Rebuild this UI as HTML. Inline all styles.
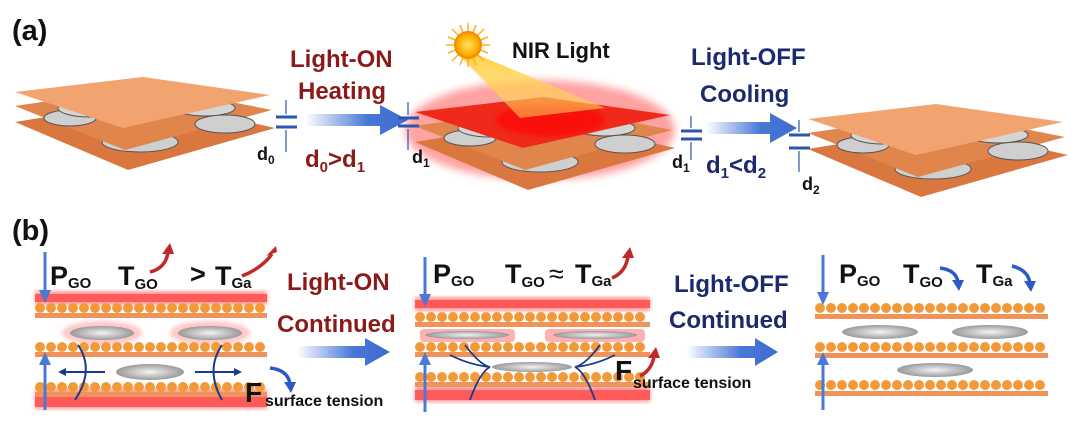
<!DOCTYPE html>
<html><head><meta charset="utf-8"><style>
html,body{margin:0;padding:0;background:#fff;}
svg{display:block;font-family:"Liberation Sans",Arial,sans-serif;font-weight:bold;}
</style></head><body>
<svg width="1080" height="424" viewBox="0 0 1080 424" xmlns="http://www.w3.org/2000/svg">
<defs>
<linearGradient id="arr" x1="0" x2="1" y1="0" y2="0"><stop offset="0" stop-color="#4a78d6" stop-opacity="0"/><stop offset="0.6" stop-color="#4a78d6"/><stop offset="1" stop-color="#3d6cd0"/></linearGradient>
<radialGradient id="sun"><stop offset="0" stop-color="#ffe066"/><stop offset="0.7" stop-color="#ffb000"/><stop offset="1" stop-color="#f08000"/></radialGradient>
<linearGradient id="beam" x1="0" y1="0" x2="0" y2="1"><stop offset="0" stop-color="#ffcc33" stop-opacity="0.9"/><stop offset="1" stop-color="#ffd966" stop-opacity="0.5"/></linearGradient>
<radialGradient id="disc"><stop offset="0" stop-color="#f4f4f4"/><stop offset="1" stop-color="#9a9a9a"/></radialGradient>
<filter id="blur"><feGaussianBlur stdDeviation="4"/></filter>
<filter id="blur2"><feGaussianBlur stdDeviation="2"/></filter>
<g id="stack">
  <polygon points="15,122 150,100 275,128 128,170" fill="#d9773f"/>
  <ellipse cx="140" cy="142" rx="38" ry="10" fill="#cfcfcf" stroke="#555" stroke-width="1"/>
  <polygon points="15,106 150,86 272,110 125,150" fill="#e0854c"/>
  <ellipse cx="70" cy="118" rx="26" ry="8" fill="#cfcfcf" stroke="#555"/>
  <ellipse cx="225" cy="124" rx="30" ry="9" fill="#cfcfcf" stroke="#555"/>
  <ellipse cx="90" cy="108" rx="32" ry="9" fill="#d5d5d5" stroke="#555"/>
  <ellipse cx="205" cy="108" rx="30" ry="8" fill="#d5d5d5" stroke="#555"/>
  <polygon points="15,92 143,77 270,95 123,128" fill="#f2a470"/>
</g>
</defs>

<!-- (a) -->
<text x="12" y="40" font-size="29" fill="#111">(a)</text>
<use href="#stack"/>
<g transform="translate(400,20)">
  <ellipse cx="140" cy="110" rx="135" ry="50" fill="#ff3030" opacity="0.45" filter="url(#blur)"/>
  <use href="#stack"/>
  <polygon points="15,92 143,77 270,95 123,128" fill="#f02a1a"/>
  <ellipse cx="150" cy="100" rx="55" ry="16" fill="#ff0000" opacity="0.6" filter="url(#blur2)"/>
</g>
<polygon points="462,58 478,55 605,108 520,118" fill="url(#beam)"/>
<g transform="translate(468,45)">
  <g stroke="#ffb020" stroke-width="1.5">
  <line x1="-22" y1="0" x2="22" y2="0"/><line x1="0" y1="-22" x2="0" y2="22"/>
  <line x1="-16" y1="-16" x2="16" y2="16"/><line x1="-16" y1="16" x2="16" y2="-16"/>
  <line x1="-20" y1="-8" x2="20" y2="8"/><line x1="-20" y1="8" x2="20" y2="-8"/>
  <line x1="-8" y1="-20" x2="8" y2="20"/><line x1="8" y1="-20" x2="-8" y2="20"/>
  </g>
  <circle r="14" fill="url(#sun)"/>
</g>
<text x="512" y="58" font-size="22" fill="#111">NIR Light</text>
<use href="#stack" transform="translate(793,27)"/>

<polygon points="305,114 380,114 380,105 408,120 380,135 380,126 305,126" fill="url(#arr)"/>
<polygon points="706,122 770,122 770,113 797,128 770,143 770,134 706,134" fill="url(#arr)"/>

<g fill="#8b1a1a" font-size="24">
<text x="290" y="67">Light-ON</text>
<text x="298" y="99">Heating</text>
<text x="305" y="167">d<tspan font-size="15" dy="5">0</tspan><tspan dy="-5">&gt;d</tspan><tspan font-size="15" dy="5">1</tspan></text>
</g>
<g fill="#1a2a6c" font-size="24">
<text x="691" y="65">Light-OFF</text>
<text x="700" y="102">Cooling</text>
<text x="706" y="173">d<tspan font-size="15" dy="5">1</tspan><tspan dy="-5">&lt;d</tspan><tspan font-size="15" dy="5">2</tspan></text>
</g>
<g stroke="#2c55b0" fill="none">
 <g stroke-width="3"><line x1="276" y1="117" x2="297" y2="117"/><line x1="276" y1="127" x2="297" y2="127"/>
 <line x1="398" y1="118" x2="419" y2="118"/><line x1="398" y1="126" x2="419" y2="126"/>
 <line x1="681" y1="131" x2="702" y2="131"/><line x1="681" y1="139" x2="702" y2="139"/>
 <line x1="789" y1="135" x2="810" y2="135"/><line x1="789" y1="148" x2="810" y2="148"/></g>
 <g stroke-width="1.2"><line x1="286" y1="100" x2="286" y2="114"/><line x1="286" y1="130" x2="286" y2="152"/>
 <line x1="408" y1="102" x2="408" y2="115"/><line x1="408" y1="129" x2="408" y2="150"/>
 <line x1="691" y1="116" x2="691" y2="128"/><line x1="691" y1="142" x2="691" y2="160"/>
 <line x1="799" y1="120" x2="799" y2="132"/><line x1="799" y1="151" x2="799" y2="172"/></g>
</g>
<g fill="#111" font-size="18">
<text x="257" y="160">d<tspan font-size="12" dy="4">0</tspan></text>
<text x="412" y="163">d<tspan font-size="12" dy="4">1</tspan></text>
<text x="672" y="168">d<tspan font-size="12" dy="4">1</tspan></text>
<text x="802" y="190">d<tspan font-size="12" dy="4">2</tspan></text>
</g>

<!-- (b) -->
<text x="12" y="240" font-size="29" fill="#111">(b)</text>

<g>
 <rect x="35" y="291" width="232" height="14" fill="#ff4040" opacity="0.55" filter="url(#blur2)"/>
 <rect x="35" y="294" width="232" height="8" fill="#ff5a5a"/>
 <rect x="35" y="389" width="232" height="20" fill="#ff4040" opacity="0.55" filter="url(#blur2)"/>
 <rect x="35" y="397" width="232" height="10" fill="#ff5a5a"/>
 <ellipse cx="102" cy="333" rx="40" ry="12" fill="#ff9090" opacity="0.5" filter="url(#blur2)"/>
 <ellipse cx="210" cy="333" rx="40" ry="12" fill="#ff9090" opacity="0.5" filter="url(#blur2)"/>
 <g stroke="#f29a3a" stroke-width="10" stroke-linecap="round" stroke-dasharray="0 11">
  <line x1="40" y1="308" x2="265" y2="308"/><line x1="40" y1="347" x2="265" y2="347"/><line x1="40" y1="387" x2="265" y2="387"/>
 </g>
 <rect x="35" y="313" width="232" height="5" fill="#f0935a"/>
 <rect x="35" y="352" width="232" height="5" fill="#f0935a"/>
 <rect x="35" y="392" width="232" height="5" fill="#f0935a"/>
 <ellipse cx="102" cy="333" rx="32" ry="7" fill="url(#disc)"/>
 <ellipse cx="210" cy="333" rx="32" ry="7" fill="url(#disc)"/>
 <ellipse cx="150" cy="372" rx="34" ry="8" fill="url(#disc)"/>
 <g stroke="#1a3a8c" stroke-width="2" fill="none">
  <path d="M78,345 Q95,370 75,400"/><path d="M222,345 Q205,370 222,400"/>
  <line x1="105" y1="372" x2="62" y2="372"/><line x1="195" y1="372" x2="238" y2="372"/>
 </g>
 <polygon points="58,372 66,368 66,376" fill="#1a3a8c"/><polygon points="242,372 234,368 234,376" fill="#1a3a8c"/>
</g>
<g>
 <rect x="415" y="297" width="235" height="14" fill="#ff4040" opacity="0.55" filter="url(#blur2)"/>
 <rect x="415" y="300" width="235" height="8" fill="#ff5a5a"/>
 <rect x="415" y="386" width="235" height="16" fill="#ff4040" opacity="0.55" filter="url(#blur2)"/>
 <rect x="415" y="390" width="235" height="10" fill="#ff5a5a"/>
 <rect x="420" y="329" width="95" height="13" rx="4" fill="#ff7070" opacity="0.55"/>
 <rect x="545" y="329" width="100" height="13" rx="4" fill="#ff7070" opacity="0.55"/>
 <g stroke="#f29a3a" stroke-width="10" stroke-linecap="round" stroke-dasharray="0 11">
  <line x1="420" y1="317" x2="648" y2="317"/><line x1="420" y1="347" x2="648" y2="347"/><line x1="420" y1="377" x2="648" y2="377"/>
 </g>
 <rect x="415" y="322" width="235" height="5" fill="#f0935a"/>
 <rect x="415" y="352" width="235" height="5" fill="#f0935a"/>
 <rect x="415" y="382" width="235" height="5" fill="#f0935a"/>
 <ellipse cx="467" cy="335" rx="42" ry="4" fill="url(#disc)"/>
 <ellipse cx="595" cy="335" rx="42" ry="4" fill="url(#disc)"/>
 <ellipse cx="532" cy="367" rx="40" ry="5" fill="url(#disc)"/>
 <g stroke="#1a3a8c" stroke-width="1.8" fill="none">
  <path d="M465,345 Q480,365 490,367"/><path d="M470,400 Q480,372 490,367"/><path d="M450,355 Q470,365 490,367"/>
  <path d="M600,345 Q585,365 575,367"/><path d="M595,400 Q585,372 575,367"/><path d="M615,355 Q595,365 575,367"/>
 </g>
</g>
<g>
 <g stroke="#f29a3a" stroke-width="10" stroke-linecap="round" stroke-dasharray="0 11">
  <line x1="820" y1="308" x2="1046" y2="308"/><line x1="820" y1="347" x2="1046" y2="347"/><line x1="820" y1="385" x2="1046" y2="385"/>
 </g>
 <rect x="815" y="314" width="233" height="5" fill="#f0935a"/>
 <rect x="815" y="353" width="233" height="5" fill="#f0935a"/>
 <rect x="815" y="391" width="233" height="5" fill="#f0935a"/>
 <ellipse cx="880" cy="332" rx="38" ry="7" fill="url(#disc)"/>
 <ellipse cx="990" cy="332" rx="38" ry="7" fill="url(#disc)"/>
 <ellipse cx="935" cy="370" rx="38" ry="7" fill="url(#disc)"/>
</g>

<g stroke="#4a78d6" stroke-width="3" fill="#4a78d6">
 <line x1="45" y1="252" x2="45" y2="296"/><line x1="45" y1="410" x2="45" y2="362"/>
 <line x1="425" y1="257" x2="425" y2="300"/><line x1="425" y1="412" x2="425" y2="362"/>
 <line x1="823" y1="255" x2="823" y2="298"/><line x1="823" y1="410" x2="823" y2="362"/>
</g>
<g fill="#4a78d6">
 <polygon points="39,290 51,290 45,303"/><polygon points="39,365 51,365 45,352"/>
 <polygon points="419,294 431,294 425,307"/><polygon points="419,365 431,365 425,352"/>
 <polygon points="817,292 829,292 823,305"/><polygon points="817,365 829,365 823,352"/>
</g>

<polygon points="297,346 365,346 365,338 390,352 365,366 365,358 297,358" fill="url(#arr)"/>
<polygon points="686,346 755,346 755,338 778,352 755,366 755,358 686,358" fill="url(#arr)"/>

<g fill="#8b1a1a" font-size="24"><text x="287" y="290">Light-ON</text><text x="277" y="332">Continued</text></g>
<g fill="#1a2a6c" font-size="24"><text x="674" y="292">Light-OFF</text><text x="669" y="328">Continued</text></g>

<g fill="#111">
 <text x="50" y="285" font-size="27">P<tspan font-size="15" dy="3">GO</tspan></text>
 <text x="118" y="285" font-size="27">T<tspan font-size="15" dy="4">GO</tspan></text>
 <text x="190" y="283" font-size="27">&gt;</text>
 <text x="215" y="285" font-size="27">T<tspan font-size="15" dy="3">Ga</tspan></text>
 <text x="245" y="402" font-size="28">F</text>
 <text x="265" y="406" font-size="16">surface tension</text>

 <text x="433" y="283" font-size="27">P<tspan font-size="15" dy="3">GO</tspan></text>
 <text x="505" y="283" font-size="27">T<tspan font-size="15" dy="4">GO</tspan></text>
 <text x="549" y="283" font-size="27" font-weight="normal">≈</text>
 <text x="575" y="283" font-size="27">T<tspan font-size="15" dy="3">Ga</tspan></text>
 <text x="615" y="380" font-size="28">F</text>
 <text x="633" y="388" font-size="16">surface tension</text>

 <text x="839" y="283" font-size="27">P<tspan font-size="15" dy="3">GO</tspan></text>
 <text x="903" y="283" font-size="27">T<tspan font-size="15" dy="4">GO</tspan></text>
 <text x="976" y="283" font-size="27">T<tspan font-size="15" dy="3">Ga</tspan></text>
</g>
<g stroke="#c0282a" stroke-width="3.5" fill="none">
 <path d="M150,272 Q166,268 168,252"/><path d="M242,276 Q262,268 272,254"/>
 <path d="M612,278 Q626,272 628,256"/><path d="M640,376 Q652,370 654,356"/>
</g>
<g fill="#c0282a">
 <polygon points="162,254 174,254 170,243"/><polygon points="266,256 277,252 276,246"/>
 <polygon points="622,258 634,258 630,247"/><polygon points="648,358 660,358 656,347"/>
</g>
<g stroke="#2a5ac8" stroke-width="3.5" fill="none">
 <path d="M270,368 Q288,370 290,384"/>
 <path d="M940,268 Q956,270 958,282"/><path d="M1012,266 Q1028,270 1030,283"/>
</g>
<g fill="#2a5ac8">
 <polygon points="284,382 296,382 291,393"/>
 <polygon points="952,280 964,280 959,291"/><polygon points="1024,281 1036,281 1031,292"/>
</g>
</svg>
</body></html>
